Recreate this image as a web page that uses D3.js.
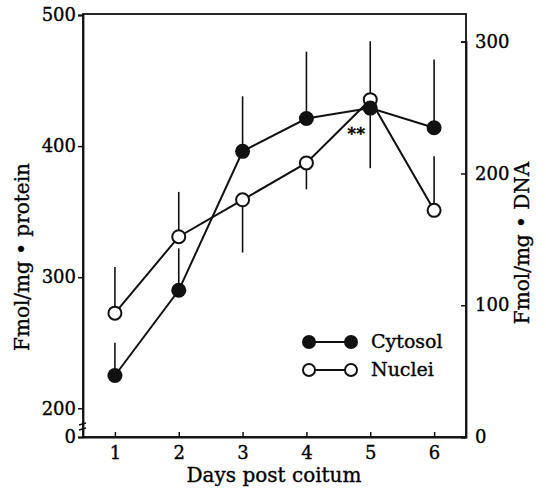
<!DOCTYPE html>
<html>
<head>
<meta charset="utf-8">
<script src="https://cdn.jsdelivr.net/npm/d3@7"></script>
<style>
  body { margin: 0; background: #fff; }
  text { font-family: "DejaVu Serif", "Liberation Serif", serif; fill: #000; stroke: #000; stroke-width: 0.35px; }
</style>
</head>
<body>
<div id="chart"></div>
<script>
// values
const days = [1, 2, 3, 4, 5, 6];
const cytosol = [225, 290, 396, 421, 429, 414];          // left axis, fmol/mg protein
const cytosolBarEnd = [250, 322, 438, 472, 480, 466];    // end of the error bar
const nuclei = [94, 152, 180, 208, 256, 172];            // right axis, fmol/mg DNA
const nucleiBarEnd = [129, 186, 140, 188, 204, 213];
const leftTicks = [0, 200, 300, 400, 500];
const rightTicks = [0, 100, 200, 300];
const seriesNames = ["Cytosol", "Nuclei"];

const width = 546, height = 489;
const plot = { left: 83, right: 466, top: 14, bottom: 437 };

const svg = d3
  .select("#chart")
  .append("svg")
  .attr("width", width)
  .attr("height", height);

const x = d3.scaleLinear().domain([0.5, 6.5]).range([plot.left, plot.right]);
// left axis is broken between 0 and 200
const yL = d3
  .scaleLinear()
  .domain([0, 200, 500])
  .range([plot.bottom, 408.3, plot.top + 1]);
const yR = d3.scaleLinear().domain([0, 300]).range([plot.bottom, 41.7]);

// frame
svg
  .append("rect")
  .attr("x", plot.left)
  .attr("y", plot.top)
  .attr("width", plot.right - plot.left)
  .attr("height", plot.bottom - plot.top)
  .attr("fill", "none")
  .attr("stroke", "#111")
  .attr("stroke-width", 1.8);

// axes
const xAxis = d3.axisBottom(x).tickValues(days).tickFormat(d3.format("d"))
  .tickSizeInner(-5).tickSizeOuter(0).tickPadding(9);
const leftAxis = d3.axisLeft(yL).tickValues(leftTicks).tickSizeOuter(0).tickSize(5).tickPadding(2);
const rightAxis = d3.axisRight(yR).tickValues(rightTicks).tickSizeOuter(0).tickSize(-5).tickPadding(9);

function styleAxis(g) {
  g.select(".domain").attr("stroke", "#111").attr("stroke-width", 1.8);
  g.selectAll(".tick line").attr("stroke", "#111").attr("stroke-width", 1.5);
  g.selectAll(".tick text")
    .style("font-family", '"DejaVu Serif", serif')
    .style("font-size", "18px")
    .attr("fill", "#000");
}

svg.append("g").attr("transform", `translate(0,${plot.bottom})`).call(xAxis).call(styleAxis);
svg.append("g").attr("transform", `translate(${plot.left},0)`).call(leftAxis).call(styleAxis);
svg.append("g").attr("transform", `translate(${plot.right},0)`).call(rightAxis).call(styleAxis);

// axis break mark
[424, 429].forEach((yy) => {
  svg
    .append("line")
    .attr("x1", plot.left - 4)
    .attr("x2", plot.left + 3)
    .attr("y1", yy + 1)
    .attr("y2", yy - 1)
    .attr("stroke", "#111")
    .attr("stroke-width", 1.6);
});

// axis titles
svg
  .append("text")
  .attr("transform", `translate(29,257) rotate(-90)`)
  .attr("text-anchor", "middle")
  .style("font-size", "20px")
  .text("Fmol/mg \u2022 protein");

svg
  .append("text")
  .attr("transform", `translate(529,243) rotate(-90)`)
  .attr("text-anchor", "middle")
  .style("font-size", "20px")
  .text("Fmol/mg \u2022 DNA");

svg
  .append("text")
  .attr("x", 274)
  .attr("y", 482)
  .attr("text-anchor", "middle")
  .style("font-size", "20px")
  .text("Days post coitum");

// error bars
const bars = svg.append("g").attr("stroke", "#111").attr("stroke-width", 1.6);
days.forEach((d, i) => {
  bars.append("line")
    .attr("x1", x(d)).attr("x2", x(d))
    .attr("y1", yR(nuclei[i])).attr("y2", yR(nucleiBarEnd[i]));
  bars.append("line")
    .attr("x1", x(d)).attr("x2", x(d))
    .attr("y1", yL(cytosol[i])).attr("y2", yL(cytosolBarEnd[i]));
});

// lines
const nucleiLine = d3.line().x((d, i) => x(days[i])).y((d) => yR(d));
const cytosolLine = d3.line().x((d, i) => x(days[i])).y((d) => yL(d));

svg.append("path")
  .datum(nuclei)
  .attr("d", nucleiLine)
  .attr("fill", "none")
  .attr("stroke", "#111")
  .attr("stroke-width", 2);

svg.append("path")
  .datum(cytosol)
  .attr("d", cytosolLine)
  .attr("fill", "none")
  .attr("stroke", "#111")
  .attr("stroke-width", 2);

// markers
svg.selectAll(".nuc-pt")
  .data(nuclei)
  .enter()
  .append("circle")
  .attr("class", "nuc-pt")
  .attr("cx", (d, i) => x(days[i]))
  .attr("cy", (d) => yR(d))
  .attr("r", 6.5)
  .attr("fill", "#fff")
  .attr("stroke", "#111")
  .attr("stroke-width", 2);

svg.selectAll(".cyt-pt")
  .data(cytosol)
  .enter()
  .append("circle")
  .attr("class", "cyt-pt")
  .attr("cx", (d, i) => x(days[i]))
  .attr("cy", (d) => yL(d))
  .attr("r", 7.5)
  .attr("fill", "#111");

// significance mark
svg
  .append("text")
  .attr("x", x(4.78))
  .attr("y", yL(428) + 30)
  .attr("text-anchor", "middle")
  .style("font-size", "17px")
  .style("font-weight", "bold")
  .text("**");

// legend
const legend = svg.append("g").attr("transform", "translate(309,342)");
seriesNames.forEach((name, i) => {
  const g = legend.append("g").attr("transform", `translate(0,${i * 28})`);
  g.append("line")
    .attr("x1", 0).attr("x2", 42)
    .attr("stroke", "#111").attr("stroke-width", 2);
  [0, 42].forEach((cx) => {
    g.append("circle")
      .attr("cx", cx)
      .attr("r", i === 0 ? 7 : 6)
      .attr("fill", i === 0 ? "#111" : "#fff")
      .attr("stroke", "#111")
      .attr("stroke-width", i === 0 ? 0 : 2);
  });
  g.append("text")
    .attr("x", 62)
    .attr("y", 6)
    .style("font-size", "19px")
    .text(name);
});
</script>
</body>
</html>
